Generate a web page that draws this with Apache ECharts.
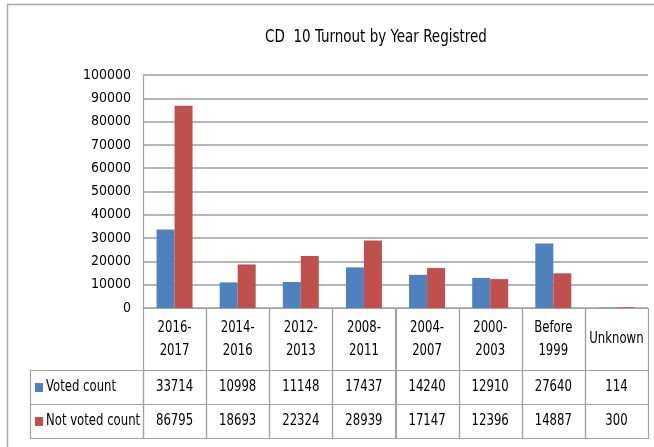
<!DOCTYPE html>
<html>
<head>
<meta charset="utf-8">
<script src="https://cdn.jsdelivr.net/npm/echarts@6/dist/echarts.min.js"></script>
<style>
html,body{margin:0;padding:0;background:#fff;}
#c{width:654px;height:447px;}
</style>
</head>
<body>
<div id="c"></div>
<script>
const title = 'CD  10 Turnout by Year Registred';
const categories = ['2016-\n2017', '2014-\n2016', '2012-\n2013', '2008-\n2011', '2004-\n2007', '2000-\n2003', 'Before\n1999', 'Unknown'];
const seriesNames = ['Voted count', 'Not voted count'];
const votedCount = [33714, 10998, 11148, 17437, 14240, 12910, 27640, 114];
const notVotedCount = [86795, 18693, 22324, 28939, 17147, 12396, 14887, 300];
const yTicks = { min: 0, max: 100000, interval: 10000 };

const FONT = '"DejaVu Sans Condensed", "Liberation Sans Narrow", sans-serif';
const colors = ['#4F81BD', '#C0504D'];
const lineColor = '#A3A3A3';
const SY = 1.22;

const rowsData = [votedCount, notVotedCount];

function cellRect(c, s) {
  return {
    type: 'rect',
    shape: { x: Math.round(c[0] - s[0] / 2) + 0.5, y: Math.round(c[1] - s[1] / 2) + 0.5, width: Math.round(s[0]), height: Math.round(s[1]) },
    style: { fill: 'none', stroke: lineColor, lineWidth: 1.2 }
  };
}

const chart = echarts.init(document.getElementById('c'), null, { renderer: 'canvas' });

const hiddenCat = (gridIndex, data, inverse) => ({
  type: 'category', gridIndex, data, inverse: !!inverse,
  axisLine: { show: false }, axisTick: { show: false }, axisLabel: { show: false }, splitLine: { show: false }
});

chart.setOption({
  backgroundColor: '#fff',
  animation: false,
  graphic: [
    {
      type: 'rect', shape: { x: 7.5, y: 4.5, width: 700, height: 500 },
      style: { fill: 'none', stroke: '#A8A8A8', lineWidth: 1.5 }, silent: true
    },
    {
      type: 'text', x: 376, y: 37, scaleY: SY,
      style: { text: title, align: 'center', verticalAlign: 'middle', font: '15px ' + FONT, fill: '#000' }
    }
  ],
  grid: [
    { left: 143, top: 75, width: 505, height: 233 },
    { left: 143, top: 308, width: 505, height: 62 },
    { left: 143, top: 370, width: 505, height: 68 },
    { left: 30, top: 370, width: 113, height: 68 }
  ],
  xAxis: [
    {
      type: 'category', gridIndex: 0, data: categories,
      axisLine: { show: true, lineStyle: { color: lineColor, width: 1.2 } },
      axisTick: { show: false }, axisLabel: { show: false }, splitLine: { show: false }
    },
    hiddenCat(1, categories),
    hiddenCat(2, categories),
    hiddenCat(3, ['key'])
  ],
  yAxis: [
    {
      type: 'value', gridIndex: 0, min: yTicks.min, max: yTicks.max, interval: yTicks.interval,
      axisLine: { show: true, lineStyle: { color: lineColor, width: 1.2 } },
      axisTick: { show: false },
      axisLabel: { fontFamily: FONT, fontSize: 14, color: '#000', margin: 12, formatter: v => String(v) },
      splitLine: { show: true, lineStyle: { color: '#9C9C9C', width: 1.5 } }
    },
    hiddenCat(1, ['header']),
    hiddenCat(2, seriesNames, true),
    hiddenCat(3, seriesNames, true)
  ],
  series: [
    {
      name: seriesNames[0], type: 'bar', xAxisIndex: 0, yAxisIndex: 0,
      data: votedCount, barGap: '0%', barCategoryGap: '43%',
      itemStyle: { color: colors[0] }
    },
    {
      name: seriesNames[1], type: 'bar', xAxisIndex: 0, yAxisIndex: 0,
      data: notVotedCount, barGap: '0%', barCategoryGap: '43%',
      itemStyle: { color: colors[1] }
    },
    {
      type: 'custom', xAxisIndex: 1, yAxisIndex: 1,
      data: categories.map((c, i) => [i, 0]),
      renderItem: function (params, api) {
        const i = api.value(0);
        const c = api.coord([i, 0]);
        const s = api.size([1, 1]);
        return {
          type: 'group', children: [
            cellRect(c, s),
            {
              type: 'text', x: c[0], y: c[1], scaleY: SY,
              style: { text: categories[i], align: 'center', verticalAlign: 'middle', font: '13px ' + FONT, fill: '#000', lineHeight: 19 }
            }
          ]
        };
      }
    },
    {
      type: 'custom', xAxisIndex: 2, yAxisIndex: 2,
      data: rowsData.flatMap((row, r) => row.map((v, i) => [i, r, v])),
      renderItem: function (params, api) {
        const i = api.value(0), r = api.value(1), v = api.value(2);
        const c = api.coord([i, r]);
        const s = api.size([1, 1]);
        return {
          type: 'group', children: [
            cellRect(c, s),
            {
              type: 'text', x: c[0], y: c[1], scaleY: SY,
              style: { text: String(v), align: 'center', verticalAlign: 'middle', font: '13px ' + FONT, fill: '#000' }
            }
          ]
        };
      }
    },
    {
      type: 'custom', xAxisIndex: 3, yAxisIndex: 3,
      data: seriesNames.map((n, r) => [0, r]),
      renderItem: function (params, api) {
        const r = api.value(1);
        const c = api.coord([0, r]);
        const s = api.size([1, 1]);
        const x0 = c[0] - s[0] / 2;
        return {
          type: 'group', children: [
            cellRect(c, s),
            { type: 'rect', shape: { x: x0 + 5, y: c[1] - 4, width: 8, height: 9 }, style: { fill: colors[r] } },
            {
              type: 'text', x: x0 + 16, y: c[1], scaleY: SY,
              style: { text: seriesNames[r], align: 'left', verticalAlign: 'middle', font: '13px ' + FONT, fill: '#000' }
            }
          ]
        };
      }
    }
  ]
});
</script>
</body>
</html>
